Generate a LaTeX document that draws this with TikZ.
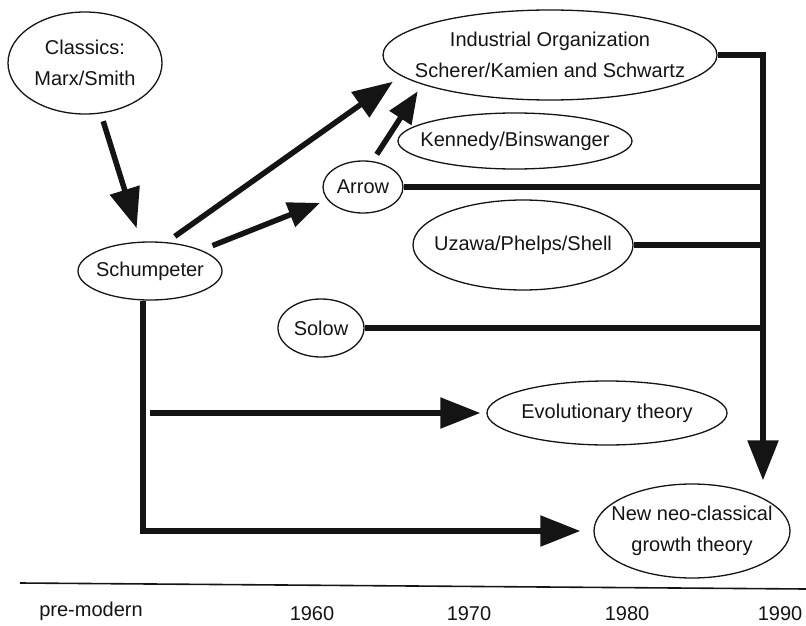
\documentclass[tikz,border=0pt]{standalone}
\usepackage{fontspec}
\setsansfont{Liberation Sans}
\usetikzlibrary{arrows.meta,shapes.geometric}
\definecolor{inkblack}{HTML}{141414}

\begin{document}
\begin{tikzpicture}[
  x=1pt, y=-1pt,
  font=\sffamily\fontsize{20}{31}\selectfont,
  flow/.style={-{Triangle[length=40pt, width=30pt]}, line width=5.5pt, draw=inkblack},
  smallflow/.style={-{Triangle[length=32pt, width=25pt]}, line width=5.5pt, draw=inkblack},
  feed/.style={line width=5.5pt, draw=inkblack},
  oval/.style={ellipse, draw=inkblack, line width=1.3pt, align=center,
               inner xsep=-18pt, inner ysep=0pt, text=inkblack},
  year/.style={text=inkblack, inner sep=1pt}
]
\useasboundingbox (0,0) rectangle (806,626);

% Schools of thought
\node[oval, minimum width=154pt, minimum height=102pt] (classics) at (85,63)
  {Classics:\\Marx/Smith};
\node[oval, minimum width=144pt, minimum height=58pt] (schumpeter) at (150,271)
  {Schumpeter};
\node[oval, minimum width=334pt, minimum height=90pt] (indorg) at (550,55)
  {Industrial Organization\\Scherer/Kamien and Schwartz};
\node[oval, minimum width=234pt, minimum height=56pt] (kennedy) at (515,141)
  {Kennedy/Binswanger};
\node[oval, minimum width=80pt, minimum height=52pt] (arrow) at (363,187)
  {Arrow};
\node[oval, minimum width=220pt, minimum height=90pt] (uzawa) at (523,245)
  {Uzawa/Phelps/Shell};
\node[oval, minimum width=86pt, minimum height=58pt] (solow) at (321,328)
  {Solow};
\node[oval, minimum width=240pt, minimum height=64pt] (evolution) at (607,413)
  {Evolutionary theory};
\node[oval, minimum width=196pt, minimum height=94pt] (growth) at (692,531)
  {New neo-classical\\growth theory};

% Lines of influence
\draw[flow, shorten <=8pt, shorten >=14pt] (classics) -- (schumpeter);
\draw[flow, shorten <=10pt, shorten >=10pt] (schumpeter.60) -- (indorg.188);
\draw[smallflow, shorten <=12pt, shorten >=8pt] (schumpeter.north east) -- (arrow.200);
\draw[smallflow, shorten <=8pt, shorten >=8pt] (arrow.70) -- (indorg.193);

% Collector towards the new growth theory
\coordinate (bus) at (763,0);
\draw[flow, shorten >=3pt] (indorg.east) -| (bus |- growth.north);
\draw[feed] (arrow.east) -- (arrow.east -| bus);
\draw[feed] (uzawa.east) -- (uzawa.east -| bus);
\draw[feed] (solow.east) -- (solow.east -| bus);

% Schumpeterian branches
\draw[flow, shorten >=13pt] ([xshift=-7pt]schumpeter.south) |- (growth.west);
\draw[flow, shorten >=6pt] (schumpeter.south |- evolution.west) -- (evolution.west);

% Time axis
\coordinate (axis start) at (20,583);
\coordinate (axis end) at (806,589);
\draw[line width=1.6pt, draw=inkblack] (axis start) -- (axis end);
\node[year] (premodern) at (91,611) {pre-modern};
\node[year] (y1960) at (312,614) {1960};
\node[year] (y1970) at (469,614) {1970};
\node[year] (y1980) at (627,614) {1980};
\node[year] (y1990) at (780,614) {1990};

\end{tikzpicture}
\end{document}
